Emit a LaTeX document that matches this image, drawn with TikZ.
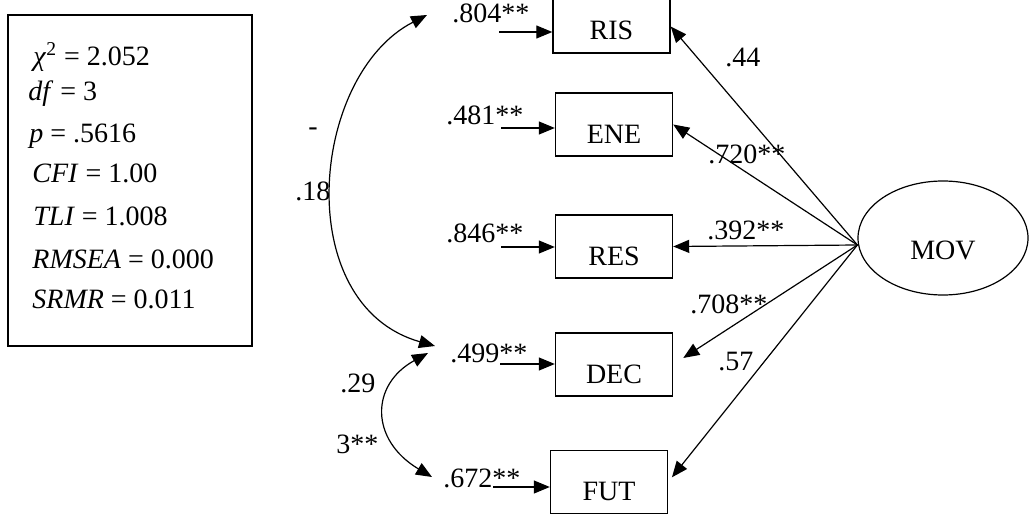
\documentclass[tikz,border=0pt]{standalone}
\usepackage{fontspec}
\setmainfont{Liberation Serif}
\usetikzlibrary{arrows.meta, shapes.geometric}

\begin{document}
\begin{tikzpicture}[
                x=0.5pt, y=-0.5pt,
                font=\fontsize{14}{17}\selectfont,
                obs/.style={rectangle, draw, line width=0.7pt, minimum width=58.5pt, minimum height=31.5pt, text height=18.5pt, text depth=0pt},
                lat/.style={ellipse, draw, line width=0.6pt, minimum width=85pt, minimum height=57pt, text height=21pt, text depth=0pt},
                num/.style={anchor=base west, inner sep=0pt},
                arrow/.style={-{Triangle[length=8pt, width=6.5pt]}, line width=0.6pt},
                covar/.style={{Triangle[length=8pt, width=6.5pt]}-{Triangle[length=8pt, width=6.5pt]}, line width=0.6pt}
            ]
                \useasboundingbox (0,0) rectangle (1033,519);

                % fit indices
                \node[draw, line width=0.7pt, minimum width=122pt, minimum height=165.5pt] (fit) at (130,180.5) {};
                \node[num] (chi) at (33,66) {\textit{χ}\textsuperscript{2} = 2.052};
                \node[num] (df) at (28,101) {\textit{df} = 3};
                \node[num] (pval) at (29,142) {\textit{p} = .5616};
                \node[num] (cfi) at (32,183) {\textit{CFI} = 1.00};
                \node[num] (tli) at (33,225) {\textit{TLI} = 1.008};
                \node[num] (rmsea) at (32,268) {\textit{RMSEA} = 0.000};
                \node[num] (srmr) at (32,308) {\textit{SRMR} = 0.011};

                % indicators and factor
                \node[obs] (ris) at (611.5,21.5) {RIS};
                \node[obs] (ene) at (614,124.5) {ENE};
                \node[obs] (res) at (614,246.5) {RES};
                \node[obs] (dec) at (614,364.5) {DEC};
                \node[obs] (fut) at (609,482) {FUT};
                \node[lat] (mov) at (943,238) {MOV};

                % error terms
                \node[num] (eris) at (452,23) {.804**};
                \node[num] (eene) at (446,125) {.481**};
                \node[num] (eres) at (446,242) {.846**};
                \node[num] (edec) at (450,362) {.499**};
                \node[num] (efut) at (443,487) {.672**};
                \coordinate (uris) at (499,32);
                \coordinate (uene) at (501,128);
                \coordinate (ures) at (501,247);
                \coordinate (udec) at (500,364);
                \coordinate (ufut) at (493,487);
                \draw[arrow] (uris) -- (uris -| ris.west);
                \draw[arrow] (uene) -- (uene -| ene.west);
                \draw[arrow] (ures) -- (ures -| res.west);
                \draw[arrow] (udec) -- (udec -| dec.west);
                \draw[arrow] (ufut) -- (ufut -| fut.west);

                % loadings
                \coordinate (hub) at ([yshift=-3.5pt]mov.west);
                \draw[arrow] (hub) -- ([yshift=-2.5pt]ris.east);
                \draw[arrow] (hub) -- (ene.east);
                \draw[arrow] (hub) -- (res.east);
                \draw[arrow, shorten >=6pt] (hub) -- (dec.east);
                \draw[arrow, shorten >=3pt] (hub) -- (fut.east);
                \node[num] (lris) at (725,67) {.44};
                \node[num] (lene) at (708,163) {.720**};
                \node[num] (lres) at (707,239) {.392**};
                \node[num] (ldec) at (690,313) {.708**};
                \node[num] (lfut) at (718,370) {.57};

                % correlated errors
                \coordinate (cA) at (427,15);
                \coordinate (cB) at (435,346);
                \coordinate (cC) at (428,353);
                \coordinate (cD) at (432,477);
                \draw[covar] (cB) .. controls (290,305) and (310,75) .. (cA);
                \draw[covar] (cD) .. controls (370,440) and (370,385) .. (cC);
                \node[num] (kdash) at (308,135) {-};
                \node[num] (k18) at (295,200) {.18};
                \node[num] (k29) at (340,392) {.29};
                \node[num] (k3) at (336,453) {3**};
            \end{tikzpicture}
\end{document}
